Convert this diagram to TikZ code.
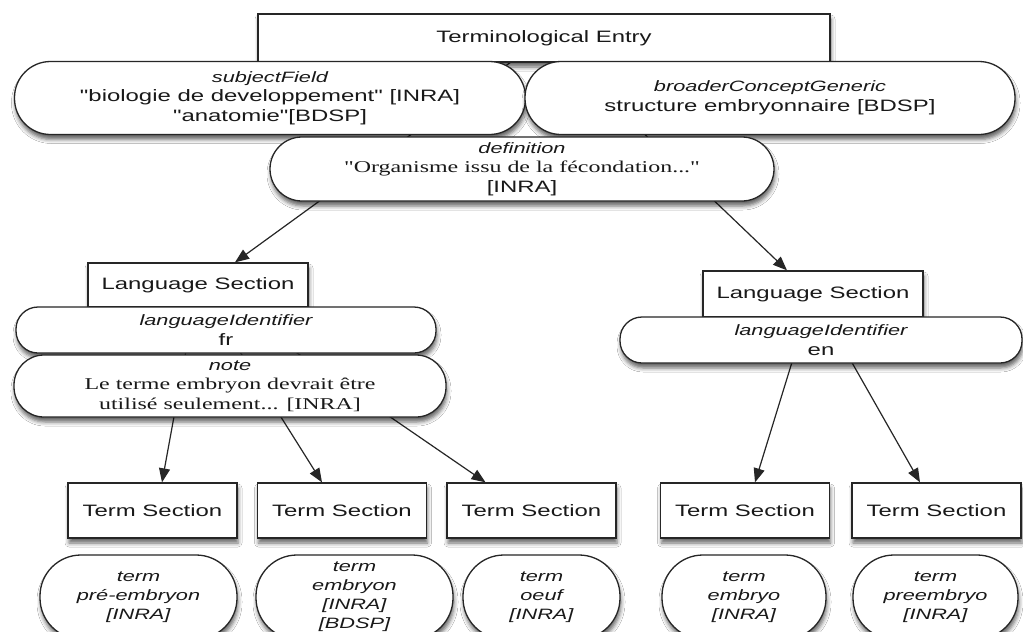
\documentclass[tikz,border=0pt]{standalone}
\usepackage{fontspec}
\setmainfont[FakeStretch=1.45, Ligatures=TeXOff]{Liberation Sans}
\newfontfamily\timesfont[FakeStretch=1.45, Ligatures=TeXOff]{Liberation Serif}
\usetikzlibrary{arrows.meta,shadows.blur,backgrounds}

\tikzset{
  base/.style={draw=black!85, line width=1.3pt, fill=white, inner sep=2pt,
    align=center, text=black!90, font=\fontsize{16.5}{19.5}\selectfont,
    blur shadow={shadow xshift=1pt, shadow yshift=-5pt,
      shadow blur radius=4pt, shadow opacity=60}},
  box/.style={base, rectangle},
  pill/.style={base, rectangle, rounded corners=#1},
  termpill/.style={pill=#1, font=\fontsize{15}{19}\selectfont\itshape},
  arr/.style={draw=black!85, line width=1.2pt,
    -{Triangle[length=14pt,width=11pt]}},
}
\newcommand\lab[1]{{\fontsize{15}{19.5}\selectfont\itshape #1}}

\begin{document}
\begin{tikzpicture}[x=1pt, y=-1pt]
\useasboundingbox (0,0) rectangle (1023,632);
\clip (0,0) rectangle (1023,632);

% entry and its attributes
\node[box, minimum width=572pt, minimum height=48pt] (entry) at (544,38) {Terminological Entry};
\node[pill=36pt, minimum width=511pt, minimum height=73pt] (subj) at (270,98)
  {\lab{subjectField}\\"biologie de developpement" [INRA]\\"anatomie"[BDSP]};
\node[pill=36pt, minimum width=490pt, minimum height=73pt] (broad) at (770,98)
  {\lab{broaderConceptGeneric}\\structure embryonnaire [BDSP]};
\node[pill=32pt, minimum width=504pt, minimum height=64pt] (defn) at (522,169)
  {\lab{definition}\\{\timesfont "Organisme issu de la fécondation..."}\\{[INRA]}};

% French language section
\node[box, minimum width=220pt, minimum height=44pt] (langL) at (198,285) {Language Section};
\node[pill=22pt, minimum width=420pt, minimum height=46pt] (idL) at (226,330)
  {\lab{languageIdentifier}\\fr};
\node[pill=30pt, minimum width=432pt, minimum height=62pt] (noteL) at (230,386)
  {\lab{note}\\{\timesfont Le terme embryon devrait être}\\{\timesfont utilisé seulement... [INRA]}};

% English language section
\node[box, minimum width=220pt, minimum height=46pt] (langR) at (813,294) {Language Section};
\node[pill=22pt, minimum width=402pt, minimum height=46pt] (idR) at (821,340)
  {\lab{languageIdentifier}\\en};

% term sections
\node[box, minimum width=169pt, minimum height=55pt] (ts1) at (152.5,510.5) {Term Section};
\node[box, minimum width=169pt, minimum height=55pt] (ts2) at (342,510.5) {Term Section};
\node[box, minimum width=169pt, minimum height=55pt] (ts3) at (531.5,510.5) {Term Section};
\node[box, minimum width=169pt, minimum height=55pt] (ts4) at (745,510.5) {Term Section};
\node[box, minimum width=169pt, minimum height=55pt] (ts5) at (936.5,510.5) {Term Section};

% terms
\node[termpill=41pt, minimum width=197pt, minimum height=84pt] (t1) at (138.5,597)
  {term\\pré-embryon\\{[INRA]}};
\node[termpill=41pt, minimum width=197pt, minimum height=84pt] (t2) at (354.5,597)
  {term\\embryon\\{[INRA]}\\{[BDSP]}};
\node[termpill=41pt, minimum width=157pt, minimum height=84pt] (t3) at (541.5,597)
  {term\\oeuf\\{[INRA]}};
\node[termpill=41pt, minimum width=164pt, minimum height=84pt] (t4) at (744,597)
  {term\\embryo\\{[INRA]}};
\node[termpill=41pt, minimum width=165pt, minimum height=84pt] (t5) at (935.5,597)
  {term\\preembryo\\{[INRA]}};

% connectors run behind the nodes
\begin{scope}[on background layer]
  \fill[white] (0,0) rectangle (1023,632);
  \draw[arr] (entry.center) -- ([xshift=37pt]langL.north);
  \draw[arr] (entry.center) -- ([xshift=-26pt]langR.north);
  \draw[arr] (langL.center) -- ([xshift=9.5pt]ts1.north);
  \draw[arr] (langL.center) -- ([xshift=-20pt]ts2.north);
  \draw[arr] (langL.center) -- ([xshift=-46pt]ts3.north);
  \draw[arr] (langR.center) -- ([xshift=10pt]ts4.north);
  \draw[arr] (langR.center) -- ([xshift=-16.5pt]ts5.north);
\end{scope}
\end{tikzpicture}
\end{document}
